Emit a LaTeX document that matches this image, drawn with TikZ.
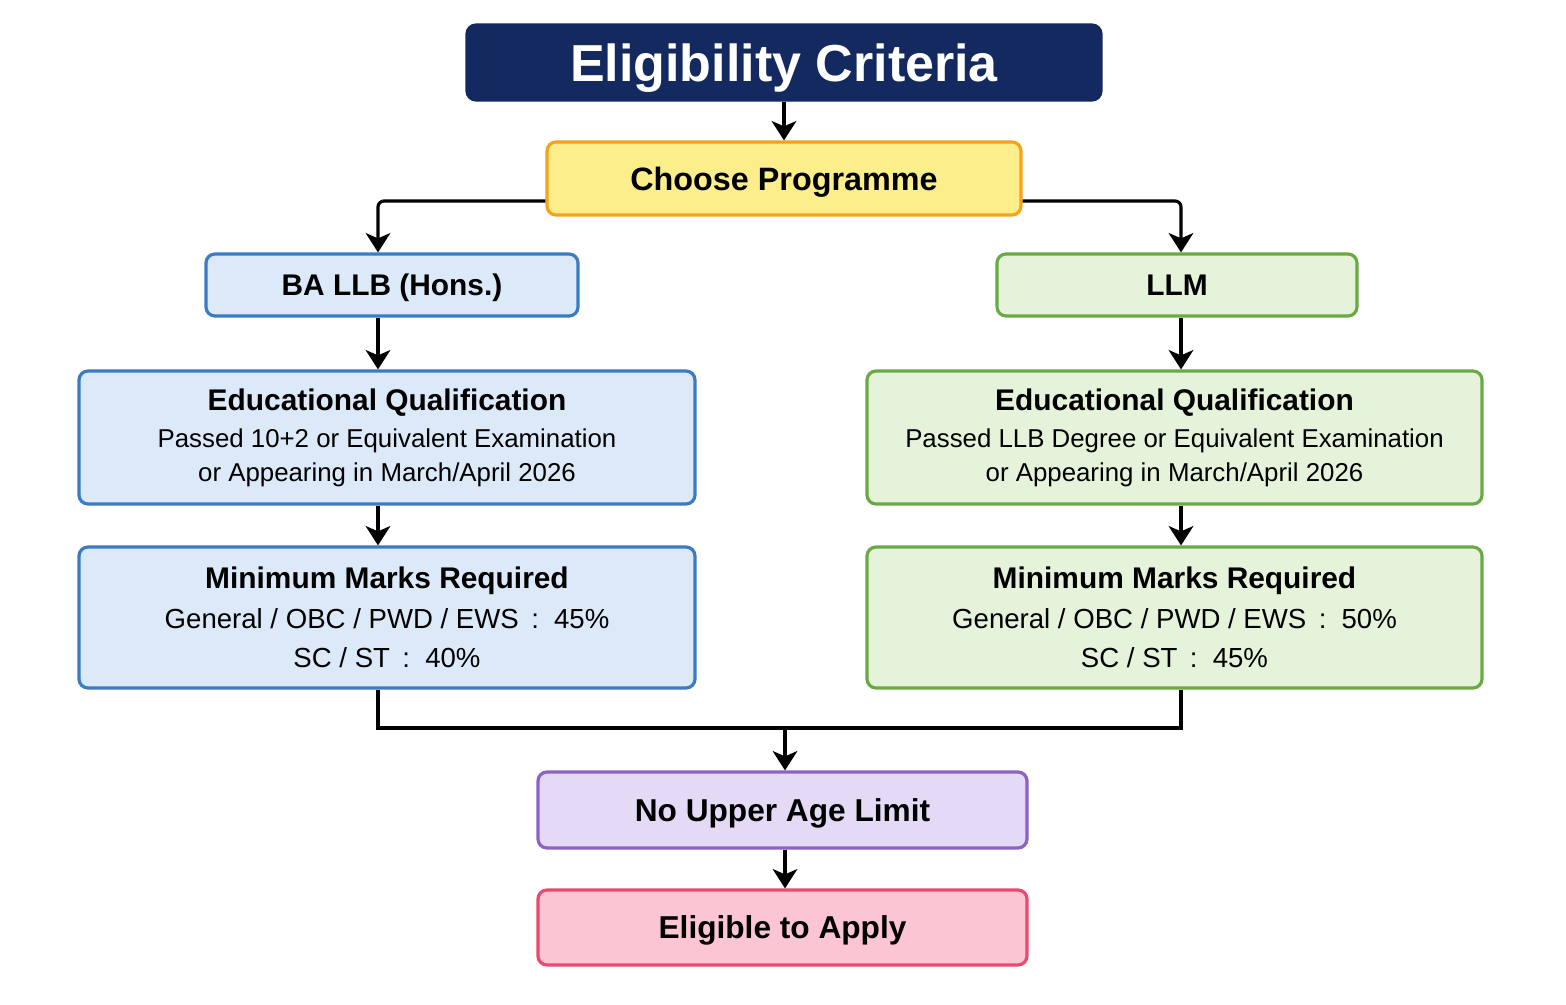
\documentclass[tikz,border=0pt]{standalone}
\usepackage{fontspec}
\setmainfont{Liberation Sans}
\usepackage{tikz}
\usetikzlibrary{
  calc,
  arrows.meta,
  shapes,
  positioning
}
\usepackage{xcolor}

\definecolor{navy}{HTML}{13295F}
\definecolor{yelfill}{HTML}{FDEE8C}
\definecolor{yeldraw}{HTML}{F5A31C}
\definecolor{bluefill}{HTML}{DCE9F9}
\definecolor{bluedraw}{HTML}{3A7BC4}
\definecolor{greenfill}{HTML}{E5F3DA}
\definecolor{greendraw}{HTML}{6AAA45}
\definecolor{purpfill}{HTML}{E4DAF6}
\definecolor{purpdraw}{HTML}{8C63C2}
\definecolor{pinkfill}{HTML}{FCC5D3}
\definecolor{pinkdraw}{HTML}{E84A70}

\newcommand{\headfont}{\bfseries\fontsize{17}{20}\selectfont}
\newcommand{\pct}[1]{\hspace{0.45em}:\hspace{0.55em}#1\%}

\begin{document}
\begin{tikzpicture}[x = 1cm, y = 1cm]
  \tikzset{
    >={Stealth[length=11pt, width=14pt, inset=3pt]},
    box/.style = {draw, line width=1.8pt, rounded corners=0.18cm, align=center, inner sep=0pt},
    onebox/.style = {box, text depth=0pt},
    bluebox/.style = {box, fill=bluefill, draw=bluedraw},
    greenbox/.style = {box, fill=greenfill, draw=greendraw},
    conn/.style = {->, line width=1.8pt, rounded corners=0.12cm},
    line/.style = {line width=1.8pt}
  }
  \useasboundingbox[fill=white] (0,0) rectangle (31.32,-20.1);

  \node[onebox, fill=navy, draw=navy, text=white, minimum width=12.68cm, minimum height=1.5cm,
        font=\bfseries\fontsize{29.6}{34}\selectfont] (title) at (15.68,-1.25) {Eligibility Criteria};
  \node[onebox, fill=yelfill, draw=yeldraw, minimum width=9.48cm, minimum height=1.46cm,
        font=\bfseries\fontsize{18.4}{22}\selectfont] (choose) at (15.68,-3.57) {Choose Programme};

  \node[bluebox, text depth=0pt, minimum width=7.44cm, minimum height=1.24cm, font=\headfont] (ba) at (7.84,-5.70) {BA LLB (Hons.)};
  \node[greenbox, text depth=0pt, minimum width=7.2cm, minimum height=1.24cm, font=\headfont] (llm) at (23.54,-5.70) {LLM};

  \node[bluebox, minimum width=12.32cm, minimum height=2.66cm, font=\fontsize{14.7}{19.3}\selectfont] (eduL) at (7.74,-8.75)
    {{\headfont Educational Qualification}\\[1.7pt] Passed 10+2 or Equivalent Examination\\ or Appearing in March/April 2026};
  \node[greenbox, minimum width=12.3cm, minimum height=2.66cm, font=\fontsize{14.7}{19.3}\selectfont] (eduR) at (23.49,-8.75)
    {{\headfont Educational Qualification}\\[1.7pt] Passed LLB Degree or Equivalent Examination\\ or Appearing in March/April 2026};

  \node[bluebox, minimum width=12.32cm, minimum height=2.82cm, font=\fontsize{15.7}{22.5}\selectfont] (minL) at (7.74,-12.35)
    {{\headfont Minimum Marks Required}\\ General / OBC / PWD / EWS\pct{45}\\ SC / ST\pct{40}};
  \node[greenbox, minimum width=12.3cm, minimum height=2.82cm, font=\fontsize{15.7}{22.5}\selectfont] (minR) at (23.49,-12.35)
    {{\headfont Minimum Marks Required}\\ General / OBC / PWD / EWS\pct{50}\\ SC / ST\pct{45}};

  \node[onebox, fill=purpfill, draw=purpdraw, minimum width=9.78cm, minimum height=1.52cm,
        font=\bfseries\fontsize{18}{22}\selectfont] (age) at (15.65,-16.2) {No Upper Age Limit};
  \node[onebox, fill=pinkfill, draw=pinkdraw, minimum width=9.78cm, minimum height=1.5cm,
        font=\bfseries\fontsize{18}{22}\selectfont] (apply) at (15.65,-18.55) {Eligible to Apply};

  % lanes and junction
  \coordinate (laneL) at (7.56,-4.02);
  \coordinate (laneR) at (23.62,-4.02);
  \coordinate (join) at (15.7,-14.56);

  \draw[conn] (title) -- (choose);
  \draw[conn] (choose.west |- laneL) -- (laneL) -- (laneL |- ba.north);
  \draw[conn] (choose.east |- laneR) -- (laneR) -- (laneR |- llm.north);
  \draw[conn] (laneL |- ba.south) -- (laneL |- eduL.north);
  \draw[conn] (laneR |- llm.south) -- (laneR |- eduR.north);
  \draw[conn] (laneL |- eduL.south) -- (laneL |- minL.north);
  \draw[conn] (laneR |- eduR.south) -- (laneR |- minR.north);

  \draw[line] (laneL |- minL.south) |- (join) -| (laneR |- minR.south);
  \draw[conn] (join) -- (join |- age.north);
  \draw[conn] (join |- age.south) -- (join |- apply.north);
\end{tikzpicture}
\end{document}
